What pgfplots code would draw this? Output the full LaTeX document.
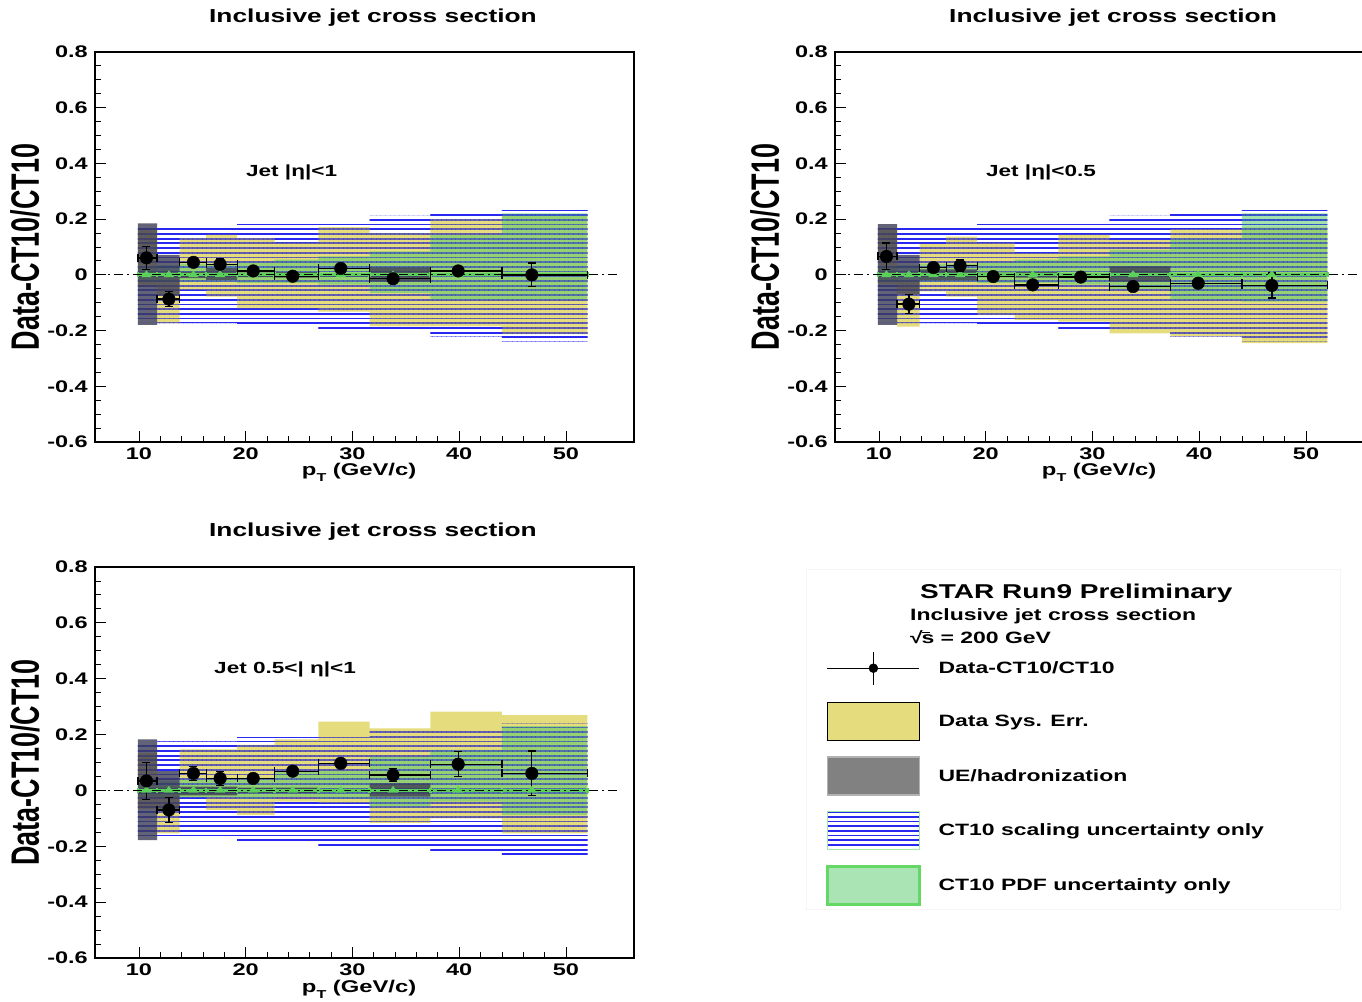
\documentclass[border=0pt]{standalone}
\usepackage{pgfplots}
\pgfplotsset{compat=1.18}
\usepackage{pgfplotstable}
\usetikzlibrary{patterns}
\usepackage{fontspec}
\setmainfont{Liberation Sans}[FakeStretch=1.4]
\newfontfamily\ylabfont{Liberation Sans}[FakeStretch=0.68]

\definecolor{scaleblue}{RGB}{40,40,240}
\definecolor{sysyellow}{RGB}{212,198,45}
\definecolor{pdfgreen}{RGB}{85,200,105}
\definecolor{pdfborder}{RGB}{100,215,100}
\definecolor{uegray}{RGB}{60,60,85}
\definecolor{thgreen}{RGB}{90,210,90}

% horizontal hatching used for the CT10 scale band
\pgfdeclarepatternformonly{scalelines}{\pgfqpoint{-1pt}{-1pt}}{\pgfqpoint{5.7pt}{5.7pt}}{\pgfqpoint{4.7pt}{4.7pt}}{%
  \pgfpathrectangle{\pgfqpoint{-0.5pt}{0pt}}{\pgfqpoint{5.7pt}{1.8pt}}\pgfusepath{fill}}

% band outlines: upper edges left to right, then lower edges right to left
% sc = CT10 scale, sy = data systematics, pd = CT10 PDF, ue = UE/hadronization
\pgfplotstableread{
x     sc     sy     pd     ue
9.9   0.170  0.161  0.030  0.185
11.7  0.176 -0.001  0.035  0.072
13.8  0.176  0.132  0.040  0.012
16.3  0.176  0.144  0.040  0.024
19.2  0.191  0.132  0.045  0.008
22.7  0.191  0.116  0.055  0.010
26.8  0.191  0.171  0.066  0.006
31.6  0.212  0.150  0.084  0.027
37.3  0.221  0.200  0.143  0.004
44.0  0.239  0.212  0.221  0.003
52.0  0.239  0.212  0.221  0.003
52.0 -0.239 -0.213 -0.090 -0.003
44.0 -0.221 -0.185 -0.090 -0.004
37.3 -0.205 -0.185 -0.066 -0.024
31.6 -0.203 -0.132 -0.035 -0.006
26.8 -0.185 -0.120 -0.030 -0.010
22.7 -0.185 -0.120 -0.030 -0.008
19.2 -0.173 -0.078 -0.025 -0.018
16.3 -0.173 -0.054 -0.025 -0.012
13.8 -0.173 -0.173 -0.025 -0.075
11.7 -0.170 -0.039 -0.025 -0.180
9.9  -0.170 -0.039 -0.025 -0.180
}\bandA
\pgfplotstableread{
x     sc     sy     pd     ue
9.9   0.170  0.166  0.030  0.182
11.7  0.176 -0.020  0.035  0.072
13.8  0.176  0.111  0.040  0.020
16.3  0.176  0.137  0.040  0.020
19.2  0.191  0.116  0.045  0.008
22.7  0.191  0.078  0.055  0.010
26.8  0.191  0.144  0.066  0.006
31.6  0.212  0.126  0.090  0.030
37.3  0.221  0.164  0.130  0.004
44.0  0.239  0.170  0.221  0.003
52.0  0.239  0.170  0.221  0.003
52.0 -0.239 -0.245 -0.096 -0.003
44.0 -0.221 -0.221 -0.090 -0.004
37.3 -0.205 -0.210 -0.050 -0.024
31.6 -0.203 -0.168 -0.035 -0.006
26.8 -0.185 -0.162 -0.030 -0.010
22.7 -0.185 -0.144 -0.030 -0.008
19.2 -0.173 -0.078 -0.025 -0.020
16.3 -0.173 -0.059 -0.025 -0.020
13.8 -0.173 -0.186 -0.025 -0.070
11.7 -0.170 -0.034 -0.025 -0.180
9.9  -0.170 -0.034 -0.025 -0.180
}\bandB
\pgfplotstableread{
x     sc     sy     pd     ue
9.9   0.170  0.134  0.030  0.183
11.7  0.176  0.014  0.035  0.069
13.8  0.176  0.147  0.040  0.014
16.3  0.176  0.147  0.040  0.014
19.2  0.191  0.163  0.045  0.010
22.7  0.191  0.183  0.067  0.010
26.8  0.191  0.246  0.070  0.006
31.6  0.212  0.222  0.120  0.025
37.3  0.221  0.282  0.145  0.004
44.0  0.239  0.270  0.230  0.003
52.0  0.239  0.270  0.230  0.003
52.0 -0.239 -0.154 -0.088 -0.003
44.0 -0.221 -0.100 -0.040 -0.004
37.3 -0.205 -0.116 -0.060 -0.022
31.6 -0.203 -0.045 -0.030 -0.006
26.8 -0.185 -0.040 -0.023 -0.010
22.7 -0.185 -0.088 -0.030 -0.010
19.2 -0.173 -0.070 -0.025 -0.018
16.3 -0.173 -0.025 -0.025 -0.018
13.8 -0.173 -0.154 -0.025 -0.070
11.7 -0.170 -0.066 -0.025 -0.178
9.9  -0.170 -0.066 -0.025 -0.178
}\bandC

% points: bin centre, (Data-CT10)/CT10, stat. error, distances to bin edges, CT10 reference
\pgfplotstableread{
xc   y      ey    exm exp th
10.7  0.061 0.042 0.8 1.0 0
12.8 -0.087 0.027 1.1 1.0 0
15.1  0.045 0.010 1.3 1.2 0
17.6  0.038 0.020 1.3 1.6 0
20.7  0.014 0.010 1.5 2.0 0
24.4 -0.005 0.012 1.7 2.4 0
28.9  0.023 0.012 2.1 2.7 0
33.8 -0.014 0.010 2.2 3.5 0
39.9  0.014 0.012 2.6 4.1 0
46.8  0.000 0.043 2.8 5.2 0
}\ptsA
\pgfplotstableread{
xc   y      ey    exm exp th
10.7  0.066 0.048 0.8 1.0 0
12.8 -0.105 0.034 1.1 1.0 0
15.1  0.026 0.010 1.3 1.2 0
17.6  0.033 0.022 1.3 1.6 0
20.7 -0.006 0.010 1.5 2.0 0
24.4 -0.036 0.012 1.7 2.4 0
28.9 -0.008 0.012 2.1 2.7 0
33.8 -0.042 0.014 2.2 3.5 0
39.9 -0.030 0.015 2.6 4.1 0
46.8 -0.038 0.045 2.8 5.2 0
}\ptsB
\pgfplotstableread{
xc   y      ey    exm exp th
10.7  0.034 0.067 0.8 1.0 0
12.8 -0.070 0.044 1.1 1.0 0
15.1  0.061 0.025 1.3 1.2 0
17.6  0.043 0.025 1.3 1.6 0
20.7  0.043 0.012 1.5 2.0 0
24.4  0.069 0.015 1.7 2.4 0
28.9  0.097 0.015 2.1 2.7 0
33.8  0.055 0.024 2.2 3.5 0
39.9  0.094 0.045 2.6 4.1 0
46.8  0.061 0.080 2.8 5.2 0
}\ptsC

\pgfplotsset{
  jetpanel/.style={
    scale only axis, width=539pt, anchor=south west,
    xmin=5.88, xmax=56.37, ymin=-0.6, ymax=0.8,
    xtick={10,20,30,40,50},
    ytick={-0.6,-0.4,-0.2,0,0.2,0.4,0.6,0.8},
    minor x tick num=4, minor y tick num=3,
    tick align=inside, tick pos=left,
    major tick length=11pt, minor tick length=6pt,
    axis line style={line width=1.1pt},
    every tick/.style={black, line width=0.9pt},
    /pgf/number format/assume math mode=true,
    tick label style={font=\bfseries\fontsize{16.8}{18}\selectfont, inner sep=0pt},
    xticklabel style={yshift=-6pt},
    yticklabel style={xshift=-7pt, /pgf/number format/fixed, /pgf/number format/precision=1},
    title={Inclusive jet cross section},
    title style={font=\bfseries\fontsize{18.8}{20}\selectfont, at={(0.5158,1.0614)}, anchor=base, inner sep=0pt},
    xlabel={p\raisebox{-6pt}{\fontsize{11.5}{12}\selectfont T} (GeV/c)},
    xlabel style={font=\bfseries\fontsize{17}{18}\selectfont, at={(axis description cs:0.49,-0.087)}, anchor=base, inner sep=0pt},
    ylabel={Data-CT10/CT10},
    ylabel style={font=\ylabfont\bfseries\fontsize{39.6}{40}\selectfont, at={(axis description cs:-0.1299,0.5)}, anchor=center, inner sep=0pt},
  },
  band/.style={forget plot, draw=none, const plot mark left},
}

% uncertainty bands, CT10 reference and data for one panel
\newcommand\jetpanel[2]{%
  \addplot[band, pattern=scalelines, pattern color=scaleblue] table[x=x, y=sc]{#1} -- cycle;
  \addplot[band, fill=sysyellow, fill opacity=0.62] table[x=x, y=sy]{#1} -- cycle;
  \addplot[band, fill=pdfgreen, fill opacity=0.55] table[x=x, y=pd]{#1} -- cycle;
  % the scale hatching stays visible through the other bands
  \addplot[band, pattern=scalelines, pattern color=scaleblue, fill opacity=0.4] table[x=x, y=sc]{#1} -- cycle;
  \addplot[band, fill=uegray, fill opacity=0.8] table[x=x, y=ue]{#1} -- cycle;
  \addplot[forget plot, only marks, mark=triangle*, mark size=5.5pt, thgreen, mark options={yscale=0.75},
    error bars/.cd, x dir=both, x explicit,
    error bar style={line width=3pt, thgreen},
    error mark options={rotate=90, mark size=2.5pt, line width=2.5pt, thgreen}]
    table[x=xc, y=th, x error plus=exp, x error minus=exm]{#2};
  \addplot[forget plot, black, line width=1pt, dash pattern=on 9pt off 4pt on 2pt off 4pt]
    coordinates {(5.88,0) (55.1,0)};
  \addplot[forget plot, only marks, mark=*, mark size=6.3pt, black,
    error bars/.cd, x dir=both, x explicit, y dir=both, y explicit,
    error bar style={line width=1.3pt, black},
    error mark options={rotate=90, mark size=4pt, line width=1.3pt, black}]
    table[x=xc, y=y, x error plus=exp, x error minus=exm, y error=ey]{#2};
}

\newcommand\sqrts{√\kern-0.08em\rlap{\rule[0.68em]{0.52em}{0.08em}}s}

\begin{document}
\begin{tikzpicture}

\begin{axis}[jetpanel, height=390pt, at={(95pt,559pt)}]
  \jetpanel{\bandA}{\ptsA}
  \node[anchor=base west, inner sep=0pt, font=\bfseries\fontsize{16.1}{18}\selectfont] at (axis cs:20.02,0.352) {Jet |η|<1};
\end{axis}

\begin{axis}[jetpanel, height=390pt, at={(835pt,559pt)}]
  \jetpanel{\bandB}{\ptsB}
  \node[anchor=base west, inner sep=0pt, font=\bfseries\fontsize{16.1}{18}\selectfont] at (axis cs:20.02,0.352) {Jet |η|<0.5};
\end{axis}

\begin{axis}[jetpanel, height=391pt, at={(95pt,43pt)},
  legend style={at={(1.3562,0.7903)}, anchor=north west, draw=none, fill=none, inner sep=0pt,
    row sep=15pt, font=\bfseries\fontsize{16.4}{18}\selectfont, nodes={inner sep=0pt},
    /tikz/every odd column/.append style={column sep=18pt}},
  legend cell align=left]
  \jetpanel{\bandC}{\ptsC}
  \node[anchor=base west, inner sep=0pt, font=\bfseries\fontsize{16.1}{18}\selectfont] at (axis cs:17.03,0.42) {Jet 0.5<| η|<1};
  \addlegendimage{legend image code/.code={
    \path[draw=none, fill=none] (0pt,-19pt) rectangle (92pt,19pt);
    \draw[black, line width=1pt] (0pt,0pt) -- (92pt,0pt);
    \draw[black, line width=1.2pt] (46pt,-16.5pt) -- (46pt,16.5pt);
    \fill[black] (46pt,0pt) circle (4.5pt);}}
  \addlegendentry{Data-CT10/CT10}
  \addlegendimage{legend image code/.code={
    \draw[line width=1.2pt, black, fill=sysyellow, fill opacity=0.62] (0pt,-19pt) rectangle (92pt,19pt);}}
  \addlegendentry{Data Sys. Err.}
  \addlegendimage{legend image code/.code={
    \draw[line width=1.2pt, black!30, fill=black!55, fill opacity=0.9] (0pt,-19pt) rectangle (92pt,19pt);}}
  \addlegendentry{UE/hadronization}
  \addlegendimage{legend image code/.code={
    \path[draw=none, pattern=scalelines, pattern color=scaleblue] (0pt,-19pt) rectangle (92pt,19pt);
    \draw[line width=1.6pt, pdfborder!60] (0pt,-19pt) rectangle (92pt,19pt);}}
  \addlegendentry{CT10 scaling uncertainty only}
  \addlegendimage{legend image code/.code={
    \draw[line width=2.4pt, pdfborder, fill=pdfgreen, fill opacity=0.5] (0pt,-19pt) rectangle (92pt,19pt);}}
  \addlegendentry{CT10 PDF uncertainty only}
\end{axis}

\draw[black!4, line width=1pt] (806pt,431pt) rectangle (1340pt,91pt);
\node[anchor=base west, inner sep=0pt, font=\bfseries\fontsize{20}{22}\selectfont] at (920pt,402pt) {STAR Run9 Preliminary};
\node[anchor=base west, inner sep=0pt, font=\bfseries\fontsize{16.4}{18}\selectfont] at (910pt,380pt) {Inclusive jet cross section};
\node[anchor=base west, inner sep=0pt, font=\bfseries\fontsize{16.4}{18}\selectfont] at (910pt,357pt) {\sqrts\ = 200 GeV};

\pgfresetboundingbox
\path[use as bounding box] (0pt,0pt) rectangle (1362pt,1001pt);
\end{tikzpicture}
\end{document}
